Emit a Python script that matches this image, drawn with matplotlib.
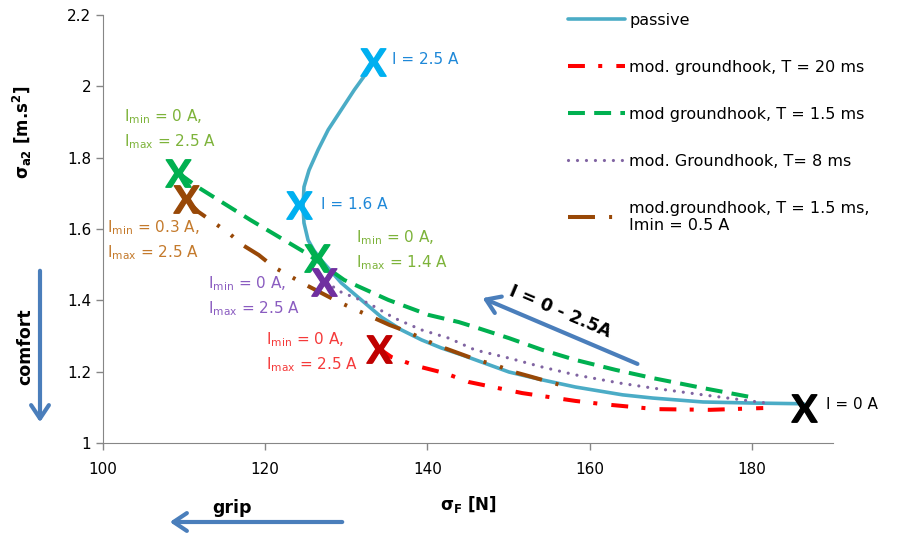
import matplotlib
matplotlib.use('Agg')
import matplotlib.pyplot as plt

plt.rcParams['font.family'] = ['DejaVu Sans']
plt.rcParams['mathtext.fontset'] = 'custom'
plt.rcParams['mathtext.rm'] = 'DejaVu Sans'
plt.rcParams['mathtext.bf'] = 'DejaVu Sans:bold'
plt.rcParams['mathtext.sf'] = 'Lato:bold'

# passive damper, I = 2.5 A -> 0 A
passive_x = [133.3, 132.47, 130.98, 129.37, 127.76, 126.52, 125.40, 124.78, 124.66, 124.78,
             125.28, 126.0, 126.9, 129.37, 131.85, 134.32, 136.80, 139.28, 141.76, 144.24,
             150.06, 154.15, 158.24, 164.06, 167.78, 173.98, 180.17, 186.37]
passive_y = [2.068, 2.037, 1.990, 1.934, 1.878, 1.822, 1.765, 1.718, 1.662, 1.617,
             1.569, 1.540, 1.513, 1.449, 1.401, 1.353, 1.317, 1.289, 1.266, 1.247,
             1.199, 1.177, 1.157, 1.135, 1.126, 1.115, 1.112, 1.110]

# mod. groundhook T = 20 ms
red_x = [133.95, 135.56, 138.66, 142.13, 145.1, 151.67, 158.24, 161.59, 168.15, 174.85, 181.4]
red_y = [1.266, 1.241, 1.216, 1.196, 1.171, 1.140, 1.118, 1.109, 1.095, 1.093, 1.098]

# mod groundhook T = 1.5 ms
green_x = [109.3, 111.65, 118.2, 125.0, 129.74, 135.19, 140.15, 143.87, 145.85, 150.06,
           154.15, 158.24, 163.2, 167.78, 173.98, 179.8]
green_y = [1.757, 1.718, 1.625, 1.533, 1.457, 1.401, 1.359, 1.339, 1.325, 1.294,
           1.261, 1.233, 1.205, 1.182, 1.154, 1.129]

# mod. Groundhook T = 8 ms
purple_x = [127.5, 129.37, 132.71, 135.94, 139.28, 142.63, 145.85, 150.06, 154.15, 158.24,
            163.7, 167.78, 173.98, 181.8]
purple_y = [1.451, 1.423, 1.392, 1.350, 1.317, 1.294, 1.261, 1.238, 1.213, 1.191,
            1.168, 1.154, 1.135, 1.112]

# mod.groundhook T = 1.5 ms, Imin = 0.5 A
brown_x = [110.16, 111.77, 115.49, 117.22, 119.21, 121.07, 125.03, 129.1, 131.23, 135.32,
           137.67, 139.65, 141.76, 146.1, 148.33, 150.68, 152.91, 157.25]
brown_y = [1.684, 1.648, 1.589, 1.555, 1.527, 1.493, 1.443, 1.395, 1.373, 1.331,
           1.311, 1.289, 1.269, 1.233, 1.219, 1.199, 1.185, 1.157]

# X markers
mark_x = [133.3, 124.2, 109.3, 110.2, 126.4, 127.2, 134.0, 186.4]
mark_y = [2.068, 1.667, 1.757, 1.684, 1.519, 1.451, 1.264, 1.098]
mark_c = ['#00B0F0', '#00B0F0', '#00B050', '#984807', '#00B050', '#7030A0', '#C00000', 'black']

# labels
lab_txt = ['I = 2.5 A', 'I = 1.6 A', 'I = 0 A',
           'I$_{\\mathrm{min}}$ = 0 A,\nI$_{\\mathrm{max}}$ = 2.5 A',
           'I$_{\\mathrm{min}}$ = 0.3 A,\nI$_{\\mathrm{max}}$ = 2.5 A',
           'I$_{\\mathrm{min}}$ = 0 A,\nI$_{\\mathrm{max}}$ = 1.4 A',
           'I$_{\\mathrm{min}}$ = 0 A,\nI$_{\\mathrm{max}}$ = 2.5 A',
           'I$_{\\mathrm{min}}$ = 0 A,\nI$_{\\mathrm{max}}$ = 2.5 A']
lab_x = [135.6, 126.9, 189.1, 102.6, 100.5, 131.2, 113.0, 120.1]
lab_y = [2.074, 1.670, 1.107, 1.880, 1.569, 1.541, 1.412, 1.255]
lab_c = ['#1E88D8', '#1E88D8', 'black', '#7DB33A', '#C47A2C', '#7DB33A', '#8A5CC0', '#F53A3A']

fig = plt.figure(figsize=(9.02, 5.4), dpi=100)
ax = fig.add_axes([103/902, 1-443/540, 730/902, 428/540])

ax.plot(passive_x, passive_y, c='#4BACC6', lw=2.6, label='passive',
        solid_capstyle='round', solid_joinstyle='round')
ax.plot(red_x, red_y, c='#FF0000', lw=2.9, ls=(0, (4.2, 3.3, 1, 3.5)), label='mod. groundhook, T = 20 ms')
ax.plot(green_x, green_y, c='#00B050', lw=2.9, ls=(0, (4.2, 2.3)), label='mod groundhook, T = 1.5 ms')
ax.plot(purple_x, purple_y, c='#8064A2', lw=2.3, ls=(0, (0.01, 2.8)), dash_capstyle='round',
        label='mod. Groundhook, T= 8 ms')
ax.plot(brown_x, brown_y, c='#984807', lw=2.9, ls=(0, (6.7, 3.5, 0.75, 3.5, 0.75, 3.5)),
        label='mod.groundhook, T = 1.5 ms,\nImin = 0.5 A')

for x, y, c in zip(mark_x, mark_y, mark_c):
    ax.scatter([x], [y], marker='$\\mathsf{X}$', s=390, c=c, zorder=5, clip_on=False)

for t, x, y, c in zip(lab_txt, lab_x, lab_y, lab_c):
    ax.text(x, y, t, color=c, fontsize=11, ha='left', va='center', linespacing=1.45, clip_on=False)

ax.set_xlim(100, 190)
ax.set_ylim(1, 2.2)
ax.set_xticks([100, 120, 140, 160, 180])
ax.set_yticks([1, 1.2, 1.4, 1.6, 1.8, 2, 2.2])
ax.set_yticklabels(['1', '1.2', '1.4', '1.6', '1.8', '2', '2.2'])
for s in ['top', 'right']:
    ax.spines[s].set_visible(False)
for s in ['left', 'bottom']:
    ax.spines[s].set_color('#868686')
ax.tick_params(colors='#868686', labelcolor='black', labelsize=11, length=5, width=1)
ax.tick_params(axis='x', pad=9)

ax.set_xlabel('σ$_{\\mathbf{F}}$ [N]', fontsize=12, fontweight='bold', labelpad=12)
ax.set_ylabel('σ$_{\\mathbf{a2}}$ [m.s$^{\\mathbf{2}}$]', fontsize=12, fontweight='bold')
ax.yaxis.set_label_coords(-0.094, 0.727)

leg = ax.legend(loc='upper left', bbox_to_anchor=(568/902, 1-13/540), bbox_transform=fig.transFigure,
                frameon=False, fontsize=11.5, handlelength=3.55, handletextpad=0.3,
                labelspacing=2.0, borderpad=0, borderaxespad=0)

def fp(px, py):
    return (px/902, 1-py/540)

arrow_c = '#4A7EBB'
for tail, head in [((40, 268), (40, 425)), ((345, 522), (167, 522)), ((640, 365), (480, 297))]:
    fig.add_artist(matplotlib.patches.FancyArrowPatch(
        fp(*tail), fp(*head), transform=fig.transFigure,
        arrowstyle='->,head_length=6,head_width=4', color=arrow_c, lw=3,
        mutation_scale=1.6))

fig.text(*fp(25, 347), 'comfort', rotation=90, fontsize=12.5, fontweight='bold', ha='center', va='center')
fig.text(*fp(232, 508), 'grip', fontsize=12.5, fontweight='bold', ha='center', va='center')
fig.text(*fp(560, 312), 'I = 0 - 2.5A', rotation=-23, fontsize=12.5, fontweight='bold',
         ha='center', va='center', rotation_mode='anchor')

fig.savefig('out.png', dpi=100)
